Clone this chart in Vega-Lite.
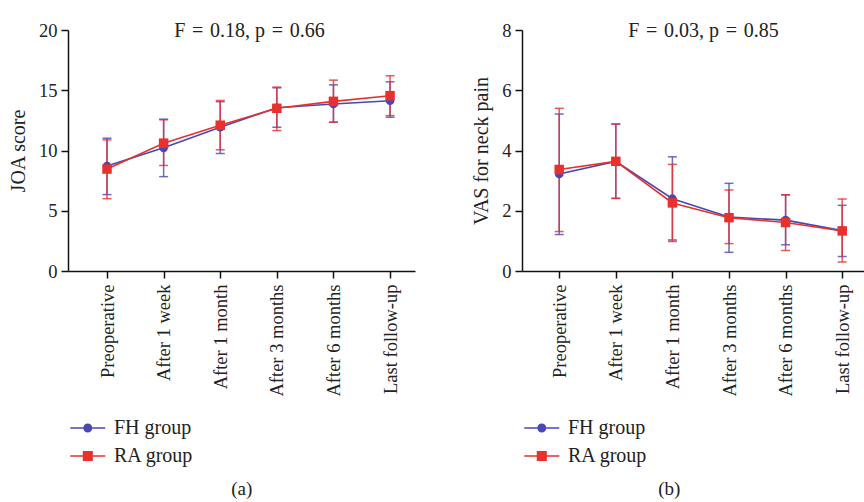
{
  "$schema": "https://vega.github.io/schema/vega-lite/v6.json",
  "background": "white",
  "padding": {"top": 21, "left": 8, "right": 4, "bottom": 0},
  "datasets": {
    "joa": [
      {"time": "Preoperative", "group": "FH group", "mean": 8.71, "lo": 6.34, "hi": 11.02},
      {"time": "After 1 week", "group": "FH group", "mean": 10.22, "lo": 7.83, "hi": 12.6},
      {"time": "After 1 month", "group": "FH group", "mean": 11.93, "lo": 9.75, "hi": 14.05},
      {"time": "After 3 months", "group": "FH group", "mean": 13.55, "lo": 11.93, "hi": 15.2},
      {"time": "After 6 months", "group": "FH group", "mean": 13.86, "lo": 12.35, "hi": 15.45},
      {"time": "Last follow-up", "group": "FH group", "mean": 14.13, "lo": 12.76, "hi": 15.7},
      {"time": "Preoperative", "group": "RA group", "mean": 8.46, "lo": 6.0, "hi": 10.88},
      {"time": "After 1 week", "group": "RA group", "mean": 10.61, "lo": 8.76, "hi": 12.55},
      {"time": "After 1 month", "group": "RA group", "mean": 12.1, "lo": 10.06, "hi": 14.15},
      {"time": "After 3 months", "group": "RA group", "mean": 13.5, "lo": 11.65, "hi": 15.26},
      {"time": "After 6 months", "group": "RA group", "mean": 14.08, "lo": 12.35, "hi": 15.84},
      {"time": "Last follow-up", "group": "RA group", "mean": 14.55, "lo": 12.9, "hi": 16.2}
    ],
    "vas": [
      {"time": "Preoperative", "group": "FH group", "mean": 3.22, "lo": 1.21, "hi": 5.21},
      {"time": "After 1 week", "group": "FH group", "mean": 3.64, "lo": 2.41, "hi": 4.88},
      {"time": "After 1 month", "group": "FH group", "mean": 2.4, "lo": 1.03, "hi": 3.79},
      {"time": "After 3 months", "group": "FH group", "mean": 1.79, "lo": 0.62, "hi": 2.91},
      {"time": "After 6 months", "group": "FH group", "mean": 1.69, "lo": 0.87, "hi": 2.53},
      {"time": "Last follow-up", "group": "FH group", "mean": 1.34, "lo": 0.48, "hi": 2.18},
      {"time": "Preoperative", "group": "RA group", "mean": 3.37, "lo": 1.31, "hi": 5.4},
      {"time": "After 1 week", "group": "RA group", "mean": 3.64, "lo": 2.41, "hi": 4.88},
      {"time": "After 1 month", "group": "RA group", "mean": 2.26, "lo": 0.98, "hi": 3.54},
      {"time": "After 3 months", "group": "RA group", "mean": 1.77, "lo": 0.91, "hi": 2.69},
      {"time": "After 6 months", "group": "RA group", "mean": 1.61, "lo": 0.68, "hi": 2.53},
      {"time": "Last follow-up", "group": "RA group", "mean": 1.33, "lo": 0.3, "hi": 2.39}
    ]
  },
  "config": {
    "font": "Liberation Serif",
    "view": {"stroke": null},
    "axis": {
      "grid": false,
      "domainColor": "#111",
      "domainWidth": 1.5,
      "tickColor": "#111",
      "tickWidth": 1.5,
      "tickSize": 7,
      "labelFont": "Liberation Serif",
      "labelFontSize": 18.5,
      "labelColor": "#222",
      "titleFont": "Liberation Serif",
      "titleFontSize": 20,
      "titleFontWeight": "normal",
      "titleColor": "#222"
    },
    "legend": {
      "labelFont": "Liberation Serif",
      "labelFontSize": 20,
      "labelColor": "#222"
    },
    "title": {
      "font": "Liberation Serif",
      "fontSize": 20,
      "fontWeight": "normal",
      "color": "#222"
    }
  },
  "spacing": 56,
  "resolve": {"scale": {"color": "independent", "x": "independent", "y": "independent"}, "legend": {"color": "independent"}},
  "hconcat": [
    {
      "title": {"text": "(a)", "orient": "bottom", "anchor": "middle", "dx": 30, "offset": 14, "fontSize": 19},
      "vconcat": [
        {
          "width": 347,
          "height": 241,
          "title": {"text": "F\u2004=\u20040.18, p\u2004=\u20040.66", "orient": "top", "anchor": "middle", "frame": "group", "offset": -20, "dx": 8},
          "data": {"name": "joa"},
          "encoding": {
            "x": {
              "field": "time", "type": "nominal",
              "scale": {"type": "point", "domain": ["Preoperative", "After 1 week", "After 1 month", "After 3 months", "After 6 months", "Last follow-up"], "padding": 0.565, "align": 0.61},
              "axis": {"title": null, "labelAngle": -90, "labelAlign": "right", "labelBaseline": "middle", "labelPadding": 6}
            },
            "color": {
              "field": "group", "type": "nominal",
              "scale": {"domain": ["FH group", "RA group"], "range": ["#4848b4", "#e8302c"]},
              "legend": {
                "title": null, "orient": "bottom", "direction": "vertical", "offset": 21,
                "symbolSize": 300, "labelOffset": 26, "labelFontSize": 20, "rowPadding": 8, "padding": 0,
                "encode": {
                  "symbols": {
                    "update": {
                      "shape": {"signal": "datum.value === 'FH group' ? 'M-0.89,-0.08H0.61V0.08H-0.89Z M1.65,-0.08H3.15V0.08H1.65Z M1.65,0A0.52,0.52,0,1,1,0.61,0A0.52,0.52,0,1,1,1.65,0Z' : 'M-0.89,-0.08H0.55V0.08H-0.89Z M1.71,-0.08H3.15V0.08H1.71Z M0.55,-0.58H1.71V0.58H0.55Z'"},
                      "strokeWidth": {"value": 0},
                      "opacity": {"value": 1}
                    }
                  }
                }
              }
            }
          },
          "layer": [
            {
              "mark": {"type": "errorbar", "ticks": {"size": 9, "thickness": 1.5}, "thickness": 1.5, "opacity": 0.8},
              "encoding": {
                "y": {"field": "lo", "type": "quantitative", "scale": {"domain": [0, 20]}, "axis": {"title": "JOA score", "titleFontSize": 20, "values": [0, 5, 10, 15, 20], "titlePadding": 10, "labelPadding": 4}},
                "y2": {"field": "hi"}
              }
            },
            {
              "mark": {"type": "line", "strokeWidth": 1.6},
              "encoding": {"y": {"field": "mean", "type": "quantitative"}}
            },
            {
              "transform": [{"filter": "datum.group === 'FH group'"}],
              "mark": {"type": "point", "filled": true, "opacity": 1, "size": 75, "shape": "circle"},
              "encoding": {"y": {"field": "mean", "type": "quantitative"}}
            },
            {
              "transform": [{"filter": "datum.group === 'RA group'"}],
              "mark": {"type": "point", "filled": true, "opacity": 1, "size": 90, "shape": "square"},
              "encoding": {"y": {"field": "mean", "type": "quantitative"}}
            }
          ]
        }
      ]
    },
    {
      "title": {"text": "(b)", "orient": "bottom", "anchor": "middle", "dx": 0, "offset": 14, "fontSize": 19},
      "vconcat": [
        {
          "width": 345,
          "height": 241,
          "title": {"text": "F\u2004=\u20040.03, p\u2004=\u20040.85", "orient": "top", "anchor": "middle", "frame": "group", "offset": -20, "dx": 9},
          "data": {"name": "vas"},
          "encoding": {
            "x": {
              "field": "time", "type": "nominal",
              "scale": {"type": "point", "domain": ["Preoperative", "After 1 week", "After 1 month", "After 3 months", "After 6 months", "Last follow-up"], "padding": 0.548, "align": 0.6},
              "axis": {"title": null, "labelAngle": -90, "labelAlign": "right", "labelBaseline": "middle", "labelPadding": 6}
            },
            "color": {
              "field": "group", "type": "nominal",
              "scale": {"domain": ["FH group", "RA group"], "range": ["#4848b4", "#e8302c"]},
              "legend": {
                "title": null, "orient": "bottom", "direction": "vertical", "offset": 21,
                "symbolSize": 300, "labelOffset": 26, "labelFontSize": 20, "rowPadding": 8, "padding": 0,
                "encode": {
                  "symbols": {
                    "update": {
                      "shape": {"signal": "datum.value === 'FH group' ? 'M-0.89,-0.08H0.61V0.08H-0.89Z M1.65,-0.08H3.15V0.08H1.65Z M1.65,0A0.52,0.52,0,1,1,0.61,0A0.52,0.52,0,1,1,1.65,0Z' : 'M-0.89,-0.08H0.55V0.08H-0.89Z M1.71,-0.08H3.15V0.08H1.71Z M0.55,-0.58H1.71V0.58H0.55Z'"},
                      "strokeWidth": {"value": 0},
                      "opacity": {"value": 1}
                    }
                  }
                }
              }
            }
          },
          "layer": [
            {
              "mark": {"type": "errorbar", "ticks": {"size": 9, "thickness": 1.5}, "thickness": 1.5, "opacity": 0.8},
              "encoding": {
                "y": {"field": "lo", "type": "quantitative", "scale": {"domain": [0, 8]}, "axis": {"title": "VAS for neck pain", "titleFontSize": 20, "values": [0, 2, 4, 6, 8], "titlePadding": 10, "labelPadding": 4}},
                "y2": {"field": "hi"}
              }
            },
            {
              "mark": {"type": "line", "strokeWidth": 1.6},
              "encoding": {"y": {"field": "mean", "type": "quantitative"}}
            },
            {
              "transform": [{"filter": "datum.group === 'FH group'"}],
              "mark": {"type": "point", "filled": true, "opacity": 1, "size": 75, "shape": "circle"},
              "encoding": {"y": {"field": "mean", "type": "quantitative"}}
            },
            {
              "transform": [{"filter": "datum.group === 'RA group'"}],
              "mark": {"type": "point", "filled": true, "opacity": 1, "size": 90, "shape": "square"},
              "encoding": {"y": {"field": "mean", "type": "quantitative"}}
            }
          ]
        }
      ]
    }
  ]
}
